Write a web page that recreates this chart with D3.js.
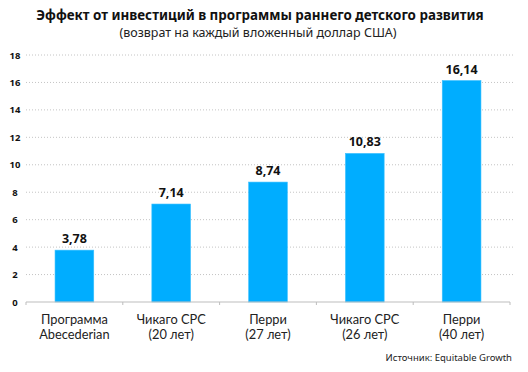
<!DOCTYPE html>
<html>
<head>
<meta charset="utf-8">
<script src="https://cdn.jsdelivr.net/npm/d3@7"></script>
<style>
  body { margin: 0; background: #fff; }
  svg text { font-family: "Noto Sans", "DejaVu Sans", sans-serif; }
</style>
</head>
<body>
<svg id="chart" width="528" height="372"></svg>
<script>
const categories = [
  ["Программа", "Abecederian"],
  ["Чикаго CPC", "(20 лет)"],
  ["Перри", "(27 лет)"],
  ["Чикаго CPC", "(26 лет)"],
  ["Перри", "(40 лет)"]
];
const values = [3.78, 7.14, 8.74, 10.83, 16.14];
const valueLabels = ["3,78", "7,14", "8,74", "10,83", "16,14"];
const yTicks = [0, 2, 4, 6, 8, 10, 12, 14, 16, 18];

const svg = d3.select('#chart');
const plotLeft = 26, plotRight = 510, plotTop = 55, plotBottom = 302;

const x = d3.scaleBand()
  .domain(d3.range(values.length))
  .range([plotLeft, plotRight])
  .paddingInner(0.6)
  .paddingOuter(0.3);

const y = d3.scaleLinear()
  .domain([0, 18])
  .range([plotBottom, plotTop]);

// title
svg.append('text')
  .attr('x', 260).attr('y', 20)
  .attr('text-anchor', 'middle')
  .attr('font-size', 13.4).attr('font-weight', 'bold')
  .attr('fill', '#111')
  .text('Эффект от инвестиций в программы раннего детского развития');
svg.append('text')
  .attr('x', 258).attr('y', 37)
  .attr('text-anchor', 'middle')
  .attr('font-size', 12.5)
  .attr('fill', '#222')
  .text('(возврат на каждый вложенный доллар США)');

// grid
svg.append('g')
  .selectAll('line')
  .data(yTicks.filter(d => d > 0))
  .join('line')
  .attr('x1', plotLeft).attr('x2', 514)
  .attr('y1', d => y(d)).attr('y2', d => y(d))
  .attr('stroke', '#c4c4c4')
  .attr('stroke-width', 1)
  .attr('stroke-dasharray', '1,2');

// y tick labels
svg.append('g')
  .selectAll('text')
  .data(yTicks)
  .join('text')
  .attr('x', 15).attr('y', d => y(d) + 3.5)
  .attr('text-anchor', 'middle')
  .attr('font-size', 9.5).attr('font-weight', 'bold')
  .attr('fill', '#111')
  .text(d => d);

// bars
svg.append('g')
  .selectAll('rect')
  .data(values)
  .join('rect')
  .attr('x', (d, i) => x(i))
  .attr('y', d => y(d))
  .attr('width', x.bandwidth())
  .attr('height', d => y(0) - y(d))
  .attr('fill', '#00adff')
  .attr('stroke', '#3cc0ff')
  .attr('stroke-width', 0.6);

// value labels
svg.append('g')
  .selectAll('text')
  .data(values)
  .join('text')
  .attr('x', (d, i) => x(i) + x.bandwidth() / 2)
  .attr('y', d => y(d) - 7)
  .attr('text-anchor', 'middle')
  .attr('font-size', 12.5).attr('font-weight', 'bold')
  .attr('fill', '#111')
  .text((d, i) => valueLabels[i]);

// x axis
const step = x.step();
const bounds = d3.range(values.length + 1).map(i => plotLeft + i * step);
const ax = svg.append('g');
ax.append('line')
  .attr('x1', plotLeft).attr('x2', plotRight)
  .attr('y1', plotBottom).attr('y2', plotBottom)
  .attr('stroke', '#bdbdbd').attr('stroke-width', 1.2);
ax.selectAll('.tk')
  .data(bounds)
  .join('line')
  .attr('class', 'tk')
  .attr('x1', d => d).attr('x2', d => d)
  .attr('y1', plotBottom).attr('y2', plotBottom + 3)
  .attr('stroke', '#bdbdbd');

// category labels, one text per line
const catLines = categories.flatMap((lines, i) => lines.map((ln, k) => ({ ln, i, k })));
svg.append('g')
  .selectAll('text')
  .data(catLines)
  .join('text')
  .attr('x', d => x(d.i) + x.bandwidth() / 2)
  .attr('y', d => 323.5 + d.k * 15)
  .attr('text-anchor', 'middle')
  .style('font-family', 'Lato, sans-serif')
  .attr('font-size', 12.8)
  .attr('fill', '#222')
  .text(d => d.ln);

// source
svg.append('text')
  .attr('x', 512).attr('y', 361)
  .attr('text-anchor', 'end')
  .attr('font-size', 9.5)
  .attr('fill', '#222')
  .text('Источник: Equitable Growth');
</script>
</body>
</html>
